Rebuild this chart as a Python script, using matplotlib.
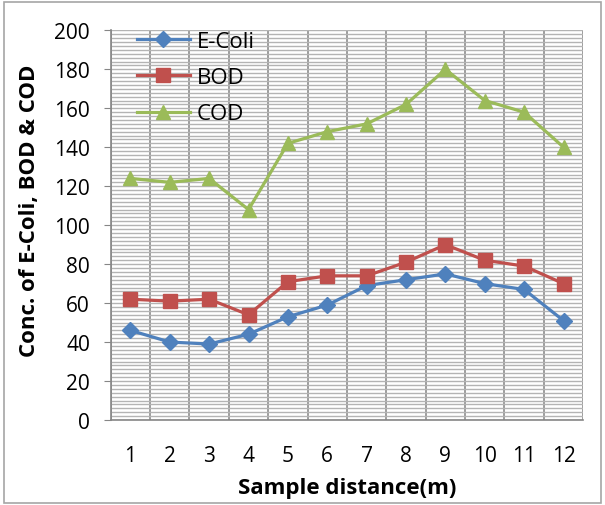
import numpy as np
import matplotlib
matplotlib.use("Agg")
import matplotlib.pyplot as plt
from matplotlib.patches import Rectangle

# sample positions
dist = [1, 2, 3, 4, 5, 6, 7, 8, 9, 10, 11, 12]
ecoli = [46, 40, 39, 44, 53, 59, 69, 72, 75, 70, 67, 51]
bod = [62, 61, 62, 54, 71, 74, 74, 81, 90, 82, 79, 70]
cod = [124, 122, 124, 108, 142, 148, 152, 162, 180, 164, 158, 140]

plt.rcParams['font.family'] = ['Open Sans', 'DejaVu Sans']

fig = plt.figure(figsize=(6.05, 5.06), dpi=100)
ax = fig.add_axes([0.183, 0.168, 0.781, 0.770])

# outer chart border
fig.patches.append(Rectangle((0.006, 0.004), 0.988, 0.99, transform=fig.transFigure,
                             fill=False, edgecolor='#a6a6a6', linewidth=1.2))

ax.plot(dist, ecoli, color='#4F81BD', lw=2.3, marker='D', ms=8, label='E-Coli')
ax.plot(dist, bod, color='#C0504D', lw=2.3, marker='s', ms=10, label='BOD')
ax.plot(dist, cod, color='#9BBB59', lw=2.3, marker='^', ms=10, label='COD')

ax.set_xlim(0.5, 12.5)
ax.set_ylim(0, 200)
ax.set_yticks(np.arange(0, 201, 20))
ax.set_yticks(np.arange(0, 201, 2), minor=True)
ax.set_xticks(dist)
ax.set_xticks(np.arange(0.5, 12.6, 1), minor=True)
ax.tick_params(axis='y', which='major', length=5, color='#868686', labelsize=15, pad=10)
ax.tick_params(axis='y', which='minor', length=0)
ax.tick_params(axis='x', which='major', length=0, labelsize=15, pad=18)
ax.tick_params(axis='x', which='minor', length=0)
ax.grid(True, which='both', axis='y', color='#b4b4b4', lw=1.0)
ax.grid(True, which='minor', axis='x', color='#8c8c8c', lw=1.2)
ax.set_axisbelow(True)
for s in ['top', 'right']:
    ax.spines[s].set_visible(False)
for s in ['left', 'bottom']:
    ax.spines[s].set_color('#868686')
    ax.spines[s].set_linewidth(1.2)

ax.set_xlabel('Sample distance(m)', fontsize=16, fontweight='bold', labelpad=8)
ax.set_ylabel('Conc. of E-Coli, BOD & COD', fontsize=16, fontweight='bold')
ax.yaxis.set_label_coords(-0.15, 0.54)

ax.legend(loc='upper left', bbox_to_anchor=(0.055, 0.998), frameon=False, fontsize=16,
          handlelength=2.4, handletextpad=0.3, labelspacing=0.68,
          borderpad=0, borderaxespad=0)

fig.savefig('out.png', dpi=100)
